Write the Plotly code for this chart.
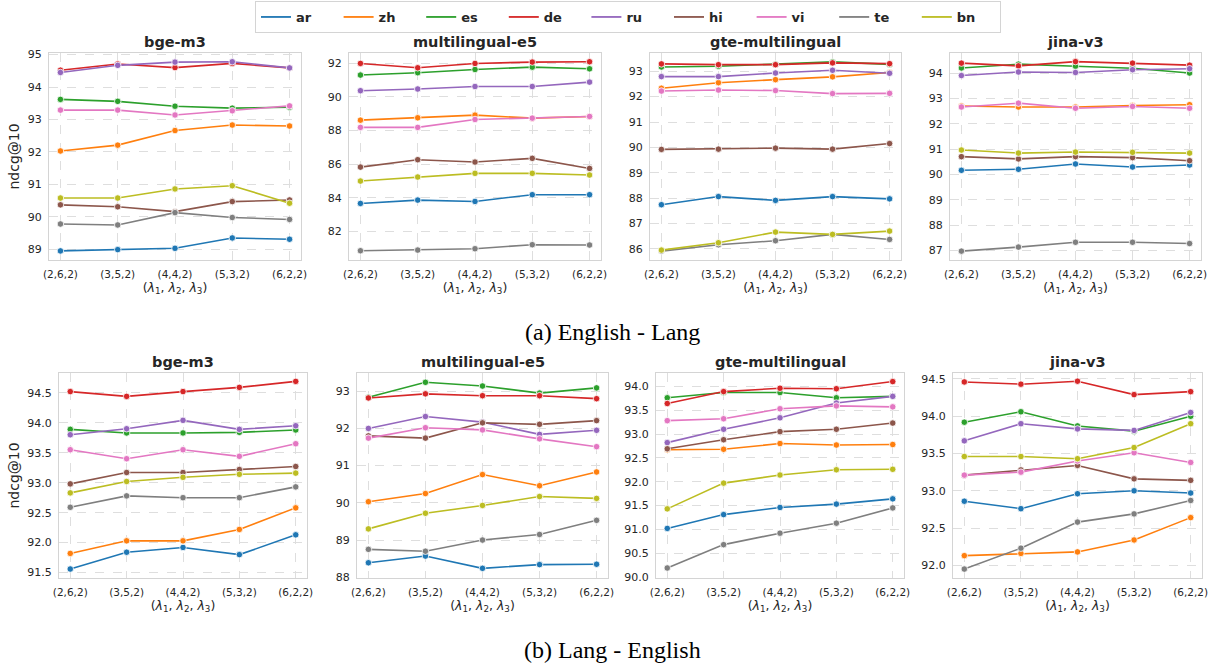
import plotly.graph_objects as go

langs = ["ar", "zh", "es", "de", "ru", "hi", "vi", "te", "bn"]
colors = ["#1f77b4", "#ff7f0e", "#2ca02c", "#d62728", "#9467bd",
          "#8c564b", "#e377c2", "#7f7f7f", "#bcbd22"]
x_labels = ["(2,6,2)", "(3,5,2)", "(4,4,2)", "(5,3,2)", "(6,2,2)"]
models = ["bge-m3", "multilingual-e5", "gte-multilingual", "jina-v3"]

# (a) English - Lang
a_bge = {
    "ar": [88.95, 88.99, 89.03, 89.35, 89.31],
    "zh": [92.03, 92.21, 92.66, 92.83, 92.80],
    "es": [93.62, 93.56, 93.41, 93.35, 93.38],
    "de": [94.52, 94.71, 94.60, 94.73, 94.59],
    "ru": [94.45, 94.67, 94.77, 94.78, 94.59],
    "hi": [90.37, 90.31, 90.16, 90.47, 90.52],
    "vi": [93.29, 93.29, 93.14, 93.27, 93.42],
    "te": [89.78, 89.75, 90.13, 89.98, 89.92],
    "bn": [90.58, 90.58, 90.86, 90.96, 90.42],
}
a_e5 = {
    "ar": [83.66, 83.86, 83.78, 84.18, 84.18],
    "zh": [88.61, 88.75, 88.91, 88.73, 88.83],
    "es": [91.29, 91.43, 91.62, 91.76, 91.66],
    "de": [91.98, 91.72, 91.98, 92.06, 92.08],
    "ru": [90.36, 90.46, 90.61, 90.61, 90.87],
    "hi": [85.82, 86.26, 86.12, 86.34, 85.74],
    "vi": [88.18, 88.18, 88.65, 88.73, 88.83],
    "te": [80.85, 80.89, 80.97, 81.21, 81.19],
    "bn": [84.99, 85.23, 85.45, 85.45, 85.35],
}
a_gte = {
    "ar": [87.74, 88.06, 87.91, 88.06, 87.97],
    "zh": [92.33, 92.55, 92.67, 92.78, 92.95],
    "es": [93.17, 93.20, 93.28, 93.37, 93.27],
    "de": [93.29, 93.26, 93.26, 93.33, 93.30],
    "ru": [92.79, 92.79, 92.93, 93.04, 92.92],
    "hi": [89.92, 89.93, 89.97, 89.93, 90.15],
    "vi": [92.22, 92.26, 92.24, 92.12, 92.13],
    "te": [85.91, 86.16, 86.32, 86.57, 86.37],
    "bn": [85.95, 86.24, 86.66, 86.57, 86.70],
}
a_jina = {
    "ar": [90.17, 90.21, 90.42, 90.30, 90.38],
    "zh": [92.71, 92.67, 92.67, 92.73, 92.76],
    "es": [94.21, 94.36, 94.28, 94.20, 94.01],
    "de": [94.40, 94.29, 94.46, 94.40, 94.32],
    "ru": [93.91, 94.05, 94.03, 94.14, 94.18],
    "hi": [90.71, 90.62, 90.71, 90.67, 90.55],
    "vi": [92.67, 92.82, 92.62, 92.69, 92.62],
    "te": [86.98, 87.14, 87.33, 87.33, 87.28],
    "bn": [90.97, 90.85, 90.89, 90.88, 90.85],
}
# (b) Lang - English
b_bge = {
    "ar": [91.56, 91.84, 91.92, 91.80, 92.13],
    "zh": [91.82, 92.03, 92.03, 92.22, 92.58],
    "es": [93.89, 93.83, 93.83, 93.84, 93.88],
    "de": [94.52, 94.44, 94.52, 94.59, 94.69],
    "ru": [93.80, 93.90, 94.04, 93.89, 93.95],
    "hi": [92.98, 93.17, 93.17, 93.22, 93.27],
    "vi": [93.55, 93.40, 93.55, 93.44, 93.65],
    "te": [92.59, 92.78, 92.75, 92.75, 92.93],
    "bn": [92.83, 93.02, 93.09, 93.14, 93.16],
}
b_e5 = {
    "ar": [88.39, 88.57, 88.24, 88.34, 88.35],
    "zh": [90.03, 90.25, 90.76, 90.46, 90.83],
    "es": [92.84, 93.24, 93.14, 92.95, 93.09],
    "de": [92.82, 92.93, 92.88, 92.88, 92.80],
    "ru": [92.00, 92.32, 92.17, 91.84, 91.95],
    "hi": [91.80, 91.74, 92.15, 92.11, 92.21],
    "vi": [91.74, 92.02, 91.96, 91.72, 91.51],
    "te": [88.75, 88.70, 89.00, 89.15, 89.53],
    "bn": [89.30, 89.72, 89.93, 90.17, 90.12],
}
b_gte = {
    "ar": [91.02, 91.31, 91.46, 91.53, 91.64],
    "zh": [92.67, 92.68, 92.80, 92.77, 92.78],
    "es": [93.76, 93.87, 93.87, 93.76, 93.79],
    "de": [93.64, 93.89, 93.96, 93.95, 94.10],
    "ru": [92.82, 93.10, 93.34, 93.65, 93.79],
    "hi": [92.69, 92.88, 93.05, 93.10, 93.23],
    "vi": [93.28, 93.32, 93.53, 93.59, 93.57],
    "te": [90.19, 90.68, 90.92, 91.13, 91.45],
    "bn": [91.43, 91.97, 92.14, 92.25, 92.26],
}
b_jina = {
    "ar": [92.86, 92.76, 92.96, 93.00, 92.97],
    "zh": [92.13, 92.16, 92.18, 92.34, 92.64],
    "es": [93.92, 94.06, 93.87, 93.80, 94.00],
    "de": [94.46, 94.43, 94.47, 94.29, 94.33],
    "ru": [93.67, 93.90, 93.83, 93.81, 94.05],
    "hi": [93.21, 93.28, 93.34, 93.16, 93.14],
    "vi": [93.21, 93.25, 93.40, 93.51, 93.38],
    "te": [91.95, 92.23, 92.58, 92.69, 92.87],
    "bn": [93.46, 93.46, 93.43, 93.58, 93.90],
}

panels = [a_bge, a_e5, a_gte, a_jina, b_bge, b_e5, b_gte, b_jina]
y_ranges = [[88.67, 95.05], [80.3, 92.6], [85.56, 93.72], [86.63, 94.8],
            [91.41, 94.83], [87.98, 93.49], [89.98, 94.28], [91.83, 94.58]]
y_dticks = [1, 2, 1, 1, 0.5, 1, 0.5, 0.5]
y_formats = ["d", "d", "d", "d", ".1f", "d", ".1f", ".1f"]

W, H = 1217, 669
x_px = [(49, 301), (349, 601), (650, 901), (950, 1201),
        (59, 307), (357, 608), (656, 904), (953, 1202)]
y_px = [(53, 260)] * 4 + [(373, 578)] * 4

TXT = "#262626"
fig = go.Figure()
layout = {}
annotations = []

for i, data in enumerate(panels):
    k = i + 1
    xa = "x" if k == 1 else f"x{k}"
    ya = "y" if k == 1 else f"y{k}"
    for lang, col in zip(langs, colors):
        fig.add_trace(go.Scatter(
            x=list(range(len(x_labels))), y=data[lang], mode="lines+markers",
            line=dict(color=col, width=1.6),
            marker=dict(color=col, size=6.5, line=dict(color="white", width=0.8)),
            name=lang, showlegend=False, xaxis=xa, yaxis=ya, hoverinfo="skip"))
    x0, x1 = x_px[i]
    y0, y1 = y_px[i]
    xdom = [x0 / W, x1 / W]
    ydom = [1 - y1 / H, 1 - y0 / H]
    layout[f"xaxis{k}"] = dict(
        domain=xdom, anchor=ya, range=[-0.2, 4.2], automargin=False,
        tickmode="array", tickvals=list(range(5)), ticktext=x_labels,
        tickfont=dict(family="DejaVu Sans", size=10.5, color=TXT),
        showgrid=True, gridcolor="#dedede", griddash="dash", gridwidth=1,
        showline=True, mirror=True, linecolor="#d4d4d4", linewidth=1.3,
        zeroline=False, ticks="", ticklabelstandoff=4,
        title=dict(text="(<i>λ</i><sub>1</sub>, <i>λ</i><sub>2</sub>, <i>λ</i><sub>3</sub>)",
                   font=dict(family="DejaVu Sans", size=12.5, color=TXT), standoff=2))
    ydict = dict(
        domain=ydom, anchor=xa, range=y_ranges[i], dtick=y_dticks[i], tick0=0,
        tickformat=y_formats[i], automargin=False,
        tickfont=dict(family="DejaVu Sans", size=11, color=TXT),
        showgrid=True, gridcolor="#dedede", griddash="dash", gridwidth=1,
        showline=True, mirror=True, linecolor="#d4d4d4", linewidth=1.3,
        zeroline=False, ticks="", ticklabelstandoff=4)
    if k in (1, 5):
        ydict["title"] = dict(text="ndcg@10", font=dict(family="DejaVu Sans", size=14, color=TXT),
                              standoff=4)
    layout[f"yaxis{k}"] = ydict
    annotations.append(dict(
        text=f"<b>{models[i % 4]}</b>", x=(xdom[0] + xdom[1]) / 2, y=ydom[1],
        xref="paper", yref="paper", xanchor="center", yanchor="bottom", yshift=1,
        showarrow=False, font=dict(family="DejaVu Sans", size=14.5, color=TXT)))

# legend-only entries (line symbols)
for lang, col in zip(langs, colors):
    fig.add_trace(go.Scatter(x=[None], y=[None], mode="lines",
                             line=dict(color=col, width=1.8),
                             name=f"<b>{lang}</b>", showlegend=True,
                             xaxis="x", yaxis="y"))

annotations.append(dict(text="(a) English - Lang", x=612 / W, y=1 - 332 / H,
                        xref="paper", yref="paper", xanchor="center", yanchor="middle",
                        showarrow=False,
                        font=dict(family="Liberation Serif", size=24, color="black")))
annotations.append(dict(text="(b) Lang - English", x=612 / W, y=1 - 650 / H,
                        xref="paper", yref="paper", xanchor="center", yanchor="middle",
                        showarrow=False,
                        font=dict(family="Liberation Serif", size=24, color="black")))

fig.update_layout(
    **layout,
    annotations=annotations,
    width=W, height=H,
    margin=dict(l=0, r=0, t=0, b=0, autoexpand=False),
    paper_bgcolor="white", plot_bgcolor="white",
    showlegend=True,
    legend=dict(orientation="h", x=628 / W, y=1 - 1 / H, xanchor="center", yanchor="top",
                xref="container", yref="container",
                bordercolor="#d4d4d4", borderwidth=1, bgcolor="white",
                font=dict(family="DejaVu Sans", size=13, color=TXT),
                entrywidth=37.6, entrywidthmode="pixels", itemwidth=30,
                tracegroupgap=0),
    font=dict(family="DejaVu Sans", color=TXT),
)

fig.write_html("out.html", config={"displayModeBar": False},
               post_script="document.body.style.margin='0';document.body.style.overflow='hidden';")
